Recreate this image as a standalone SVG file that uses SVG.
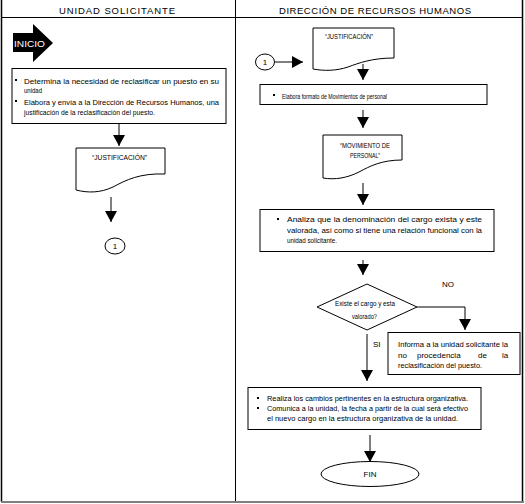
<svg xmlns="http://www.w3.org/2000/svg" width="525" height="504" viewBox="0 0 525 504">
<style>
text{font-family:"Liberation Sans Narrow","Liberation Sans",Arial,sans-serif;font-size:8px;fill:#000}
.h{font-family:"Liberation Sans",Arial,sans-serif;font-size:9.5px}
.box{fill:#fff;stroke:#000;stroke-width:1}
.ln{fill:none;stroke:#000;stroke-width:1}
.c{text-anchor:middle}
</style>
<defs>
<marker id="ah" markerUnits="userSpaceOnUse" markerWidth="12" markerHeight="12" viewBox="0 0 12 12" refX="11" refY="6" orient="auto">
<path d="M0,0 L11,6 L0,12 Z" fill="#000"/>
</marker>
</defs>
<rect width="525" height="504" fill="#fff"/>
<g id="frame">
<line x1="1.5" y1="0" x2="1.5" y2="502" stroke="#000" stroke-width="1.5"/>
<line x1="522.5" y1="0" x2="522.5" y2="502" stroke="#000" stroke-width="1.5"/>
<line x1="235.5" y1="0" x2="235.5" y2="502" stroke="#000" stroke-width="1"/>
<line x1="1" y1="17.5" x2="523" y2="17.5" stroke="#000" stroke-width="1"/>
<line x1="1" y1="502" x2="524" y2="502" stroke="#808080" stroke-width="2"/>
<text class="h" x="59" y="13.5" textLength="116" lengthAdjust="spacing">UNIDAD SOLICITANTE</text>
<text class="h" x="279" y="13.5" textLength="192" lengthAdjust="spacing">DIRECCIÓN DE RECURSOS HUMANOS</text>
</g>
<g id="connectors">
<line class="ln" x1="119" y1="123" x2="119" y2="146" marker-end="url(#ah)"/>
<line class="ln" x1="111" y1="197" x2="111" y2="222" marker-end="url(#ah)"/>
<line class="ln" x1="275" y1="62" x2="303" y2="62" marker-end="url(#ah)"/>
<line class="ln" x1="363" y1="64" x2="363" y2="80" marker-end="url(#ah)"/>
<line class="ln" x1="363" y1="110" x2="363" y2="128" marker-end="url(#ah)"/>
<line class="ln" x1="363" y1="183" x2="363" y2="205" marker-end="url(#ah)"/>
<line class="ln" x1="363" y1="260" x2="363" y2="275" marker-end="url(#ah)"/>
<polyline class="ln" points="417,307 465,307 465,330" marker-end="url(#ah)"/>
<line class="ln" x1="367" y1="334" x2="367" y2="381" marker-end="url(#ah)"/>
<line class="ln" x1="370" y1="435" x2="370" y2="462" marker-end="url(#ah)"/>
<text x="442" y="287">NO</text>
<text x="373" y="347">SI</text>
</g>
<g id="inicio">
<path d="M13,33 H33 V24 L53,43 L33,62 V52 H13 Z" fill="#000"/>
<text x="14" y="46.5" textLength="31" lengthAdjust="spacingAndGlyphs" style="fill:#fff;font-family:'Liberation Sans',Arial,sans-serif;font-size:9.5px">INICIO</text>
</g>
<g id="box1">
<rect class="box" x="12" y="68.5" width="214" height="55"/>
<rect x="15" y="79" width="2" height="2" fill="#000"/>
<rect x="15" y="100" width="2" height="2" fill="#000"/>
<text x="24" y="83.5" textLength="195" lengthAdjust="spacingAndGlyphs">Determina la necesidad de reclasificar un puesto en su</text>
<text x="24" y="93" textLength="18" lengthAdjust="spacingAndGlyphs">unidad</text>
<text x="24" y="104.5" textLength="195" lengthAdjust="spacingAndGlyphs">Elabora y envía a la Dirección de Recursos Humanos, una</text>
<text x="24" y="114.5" textLength="131" lengthAdjust="spacingAndGlyphs">justificación de la reclasificación del puesto.</text>
</g>
<g id="doc1">
<path class="box" d="M76,148 H165 V174 C140,173 126,180 113,187 C100,193 88,193 76,190 Z"/>
<text x="92" y="160" textLength="55" lengthAdjust="spacingAndGlyphs">“JUSTIFICACIÓN”</text>
</g>
<g id="conn1-left">
<ellipse class="box" cx="115" cy="246" rx="10" ry="8"/>
<text class="c" x="115" y="249">1</text>
</g>
<g id="conn1-right">
<ellipse class="box" cx="265" cy="62" rx="9.5" ry="8"/>
<text class="c" x="265" y="65">1</text>
</g>
<g id="doc2">
<path class="box" d="M313,28 H394 V58 C372,58 359,63 348,67 C336,71 324,71 313,69 Z"/>
<text x="325" y="39" textLength="48" lengthAdjust="spacingAndGlyphs">“JUSTIFICACIÓN”</text>
</g>
<g id="box2">
<rect class="box" x="260" y="84.5" width="227" height="20"/>
<rect x="273" y="94" width="2" height="2" fill="#000"/>
<text x="282" y="98.5" textLength="105" lengthAdjust="spacingAndGlyphs">Elabora formato de Movimientos de personal</text>
</g>
<g id="doc3">
<path class="box" d="M323,135 H402 V160 C382,160 370,166 359,172 C347,178 335,180 323,178 Z"/>
<text x="340" y="148" textLength="50" lengthAdjust="spacingAndGlyphs">“MOVIMIENTO DE</text>
<text x="350" y="157.5" textLength="30" lengthAdjust="spacingAndGlyphs">PERSONAL”</text>
</g>
<g id="box3">
<rect class="box" x="260" y="209.5" width="234" height="42"/>
<rect x="277" y="218" width="2" height="2" fill="#000"/>
<text x="287" y="222" textLength="195" lengthAdjust="spacingAndGlyphs">Analiza que la denominación del cargo exista y este</text>
<text x="287" y="232.5" textLength="195" lengthAdjust="spacingAndGlyphs">valorada, así como si tiene una relación funcional con la</text>
<text x="287" y="243" textLength="50" lengthAdjust="spacingAndGlyphs">unidad solicitante.</text>
</g>
<g id="decision">
<polygon class="box" points="367,284 417,307 367,330 317,307"/>
<text x="335" y="305.5" textLength="60" lengthAdjust="spacingAndGlyphs">Existe el cargo y esta</text>
<text x="352" y="318.5" textLength="25" lengthAdjust="spacingAndGlyphs">valorado?</text>
</g>
<g id="box4">
<rect class="box" x="388" y="332.5" width="132" height="42"/>
<text x="398" y="347" textLength="110" lengthAdjust="spacingAndGlyphs">Informa a la unidad solicitante la</text>
<text y="357.5"><tspan x="398">no</tspan><tspan x="417">procedencia</tspan><tspan x="478">de</tspan><tspan x="502">la</tspan></text>
<text x="398" y="368" textLength="84" lengthAdjust="spacingAndGlyphs">reclasificación del puesto.</text>
</g>
<g id="box5">
<rect class="box" x="248" y="387.5" width="233" height="42"/>
<rect x="257" y="397" width="2" height="2" fill="#000"/>
<rect x="257" y="407" width="2" height="2" fill="#000"/>
<text x="267" y="401" textLength="201" lengthAdjust="spacingAndGlyphs">Realiza los cambios pertinentes en la estructura organizativa.</text>
<text x="267" y="411" textLength="201" lengthAdjust="spacingAndGlyphs">Comunica a la unidad, la fecha a partir de la cual será efectivo</text>
<text x="267" y="421" textLength="191" lengthAdjust="spacingAndGlyphs">el nuevo cargo en la estructura organizativa de la unidad.</text>
</g>
<g id="fin">
<ellipse class="box" cx="370" cy="474" rx="49" ry="12.5"/>
<text class="c" x="370" y="477">FIN</text>
</g>
</svg>
